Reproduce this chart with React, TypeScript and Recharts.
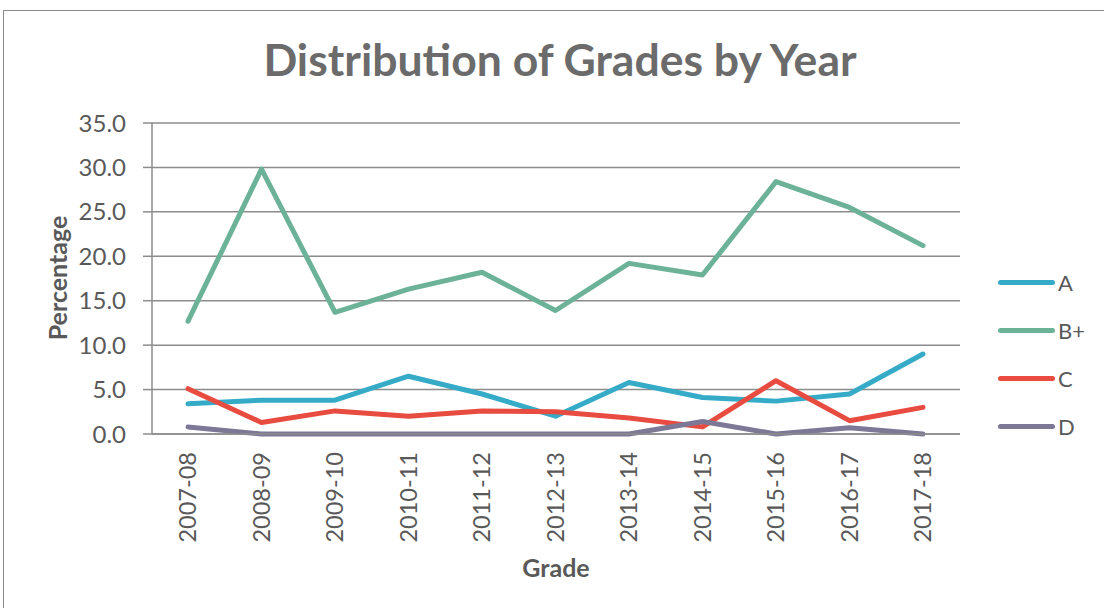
import { LineChart, Line, XAxis, YAxis, CartesianGrid } from "recharts";

const years = [
  "2007-08", "2008-09", "2009-10", "2010-11", "2011-12", "2012-13",
  "2013-14", "2014-15", "2015-16", "2016-17", "2017-18",
];
const gradeA = [3.4, 3.8, 3.8, 6.5, 4.5, 2.0, 5.8, 4.1, 3.7, 4.5, 9.0];
const gradeBPlus = [12.7, 29.8, 13.7, 16.3, 18.2, 13.9, 19.2, 17.9, 28.4, 25.5, 21.2];
const gradeC = [5.1, 1.3, 2.6, 2.0, 2.6, 2.5, 1.8, 0.8, 6.0, 1.5, 3.0];
const gradeD = [0.8, 0, 0, 0, 0, 0, 0, 1.4, 0, 0.7, 0];
const yTicks = [0, 5, 10, 15, 20, 25, 30, 35];

const seriesList = [
  { key: "A", color: "#36abc7" },
  { key: "B+", color: "#6cb299" },
  { key: "C", color: "#e84b3f" },
  { key: "D", color: "#7d7896" },
];

const data = years.map((year, i) => ({
  year,
  A: gradeA[i],
  "B+": gradeBPlus[i],
  C: gradeC[i],
  D: gradeD[i],
}));

const FONT = "Lato, 'Open Sans', sans-serif";
const TEXT = "#595959";

function YearTick(props: any) {
  const { x, payload } = props;
  return (
    <g transform={`translate(${x},452)`}>
      <text
        transform="rotate(-90)"
        textAnchor="end"
        dy="0.36em"
        fill={TEXT}
        fontSize={23.5}
        fontFamily={FONT}
      >
        {payload.value}
      </text>
    </g>
  );
}

export default function App() {
  return (
    <div style={{ position: "absolute", left: 0, top: 0, width: 1104, height: 608, overflow: "hidden", background: "#fff", fontFamily: FONT }}>
      <div
        style={{
          position: "absolute",
          left: 3,
          top: 10,
          width: 1120,
          height: 620,
          border: "1.5px solid #8c8c8c",
          boxSizing: "border-box",
        }}
      />
      <div
        style={{
          position: "absolute",
          left: 0,
          width: 1120,
          top: 37,
          textAlign: "center",
          fontSize: 44.5,
          fontWeight: 700,
          color: "#6b6b6b",
          lineHeight: "44px",
          whiteSpace: "nowrap",
        }}
      >
        Distribution of Grades by Year
      </div>
      <div
        style={{
          position: "absolute",
          left: 57,
          top: 278,
          transform: "translate(-50%, -50%) rotate(-90deg)",
          fontSize: 25,
          fontWeight: 700,
          color: TEXT,
          whiteSpace: "nowrap",
        }}
      >
        Percentage
      </div>
      <div
        style={{
          position: "absolute",
          left: 556,
          top: 567,
          transform: "translate(-50%, -50%)",
          fontSize: 25,
          fontWeight: 700,
          color: TEXT,
        }}
      >
        Grade
      </div>
      <div style={{ position: "absolute", left: 0, top: 0 }}>
        <LineChart
          width={1104}
          height={608}
          data={data}
          margin={{ top: 123, right: 144, bottom: 0, left: 0 }}
        >
          <CartesianGrid vertical={false} stroke="#8c8c8c" strokeWidth={1.5} />
          <XAxis
            dataKey="year"
            padding={{ left: 36, right: 37 }}
            axisLine={{ stroke: "#8c8c8c", strokeWidth: 1.5 }}
            tickLine={false}
            tick={<YearTick />}
            interval={0}
            height={174}
          />
          <YAxis
            width={152}
            domain={[0, 35]}
            ticks={yTicks}
            interval={0}
            tickFormatter={(v: number) => v.toFixed(1)}
            axisLine={{ stroke: "#8c8c8c", strokeWidth: 1.5 }}
            tickLine={{ stroke: "#8c8c8c", strokeWidth: 1.5 }}
            tickSize={9}
            tickMargin={17}
            tick={{ fill: TEXT, fontSize: 24, fontFamily: FONT }}
          />
          {seriesList.map((s) => (
            <Line
              key={s.key}
              dataKey={s.key}
              stroke={s.color}
              strokeWidth={5}
              dot={false}
              activeDot={false}
              strokeLinecap="round"
              strokeLinejoin="round"
              isAnimationActive={false}
            />
          ))}
        </LineChart>
      </div>
      {seriesList.map((s, i) => (
        <div key={s.key} style={{ position: "absolute", left: 998, top: 282 + i * 48 - 14, height: 28, display: "flex", alignItems: "center" }}>
          <div style={{ width: 57, height: 5, borderRadius: 3, background: s.color }} />
          <span style={{ marginLeft: 3, fontSize: 22, color: TEXT }}>{s.key}</span>
        </div>
      ))}
    </div>
  );
}
